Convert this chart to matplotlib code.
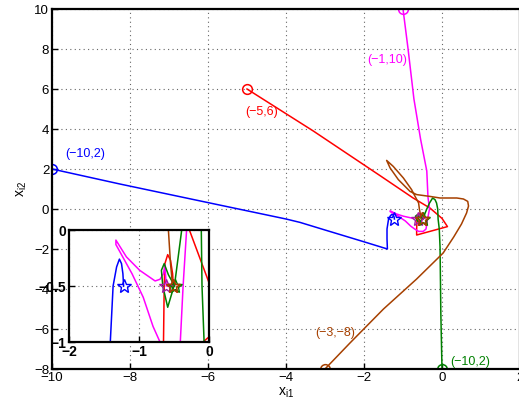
import matplotlib
matplotlib.use('Agg')
import matplotlib.pyplot as plt

plt.rcParams['font.family'] = ['Liberation Sans', 'DejaVu Sans']

# trajectories (x_i1, x_i2)
blue_x = [-10, -8.26, -6, -4, -3.64, -3, -2, -1.4, -1.41, -1.41, -1.37, -1.32, -1.28, -1.25, -1.23, -1.22]
blue_y = [2, 1.25, 0.32, -0.5, -0.67, -1.05, -1.64, -2.0, -1.5, -1.0, -0.5, -0.33, -0.26, -0.3, -0.39, -0.5]

red_x = [-5, -3.3, -1.59, -0.74, -0.31, 0, 0.14, -0.65, -0.65, -0.64, -0.63, -0.59, -0.55, -0.52, -0.51]
red_y = [6, 3.9, 1.67, 0.55, 0.05, -0.47, -0.88, -1.3, -1.0, -0.5, -0.3, -0.22, -0.27, -0.39, -0.5]

mag_x = [-1, -0.87, -0.72, -0.55, -0.45, -0.39, -0.36, -0.32, -0.37, -0.41, -0.48, -0.6, -0.7, -0.8,
         -0.94, -1.1, -1.33, -1.33, -1.18, -0.99, -0.77, -0.7, -0.65, -0.63, -0.61]
mag_y = [10, 8, 5.5, 3.5, 2.5, 1.9, 0.6, 0, -0.5, -1.0, -1.12, -1.12, -1.0, -0.86,
         -0.6, -0.39, -0.13, -0.09, -0.24, -0.36, -0.455, -0.44, -0.39, -0.31, -0.5]

green_x = [0, -0.03, -0.05, -0.07, -0.1, -0.11, -0.14, -0.18, -0.24, -0.32, -0.39, -0.49, -0.59,
           -0.66, -0.68, -0.64, -0.58, -0.49]
green_y = [-8, -5.2, -1.9, -1.0, -0.5, 0, 0.3, 0.47, 0.55, 0.3, 0, -0.48, -0.69,
           -0.5, -0.36, -0.30, -0.4, -0.5]

brown_x = [-3, -2.36, -1.5, -0.65, 0.03, 0.3, 0.5, 0.63, 0.68, 0.66, 0.55, 0.38, -0.05, -0.31, -0.65,
           -0.82, -1.12, -1.33, -1.42, -1.25, -0.99, -0.78, -0.69, -0.6, -0.58, -0.55, -0.52]
brown_y = [-8, -6.7, -5.0, -3.5, -2.2, -1.4, -0.75, -0.2, 0.15, 0.38, 0.5, 0.55, 0.55, 0.63, 0.72,
           0.88, 1.47, 2.05, 2.43, 2.13, 1.55, 0.97, 0.63, 0.3, 0, -0.3, -0.5]

# equilibrium estimates (stars)
star_x = [-1.22, -0.51, -0.61, -0.49, -0.52]
star_y = [-0.5, -0.5, -0.5, -0.5, -0.5]

labels = ['(\u221210,2)', '(\u22125,6)', '(\u22121,10)', '(\u221210,2)', '(\u22123,\u22128)']
label_x = [-9.67, -5.05, -1.92, 0.2, -3.26]
label_y = [2.6, 4.7, 7.3, -7.8, -6.35]

brown = (0.65, 0.25, 0.0)
green = (0.0, 0.5, 0.0)
magenta = (1.0, 0.0, 1.0)
purple = (0.65, 0.1, 0.65)
curves = [(blue_x, blue_y, 'b'), (red_x, red_y, 'r'), (mag_x, mag_y, magenta),
          (green_x, green_y, green), (brown_x, brown_y, brown)]
star_cols = ['b', 'r', purple, green, brown]
label_cols = ['b', 'r', magenta, green, brown]


def draw(ax):
    for xs, ys, c in curves:
        ax.plot(xs, ys, color=c, lw=1.1)
        ax.plot(xs[0], ys[0], 'o', mfc='none', mec=c, ms=7, mew=1.1)
    for sx, sy, c in zip(star_x, star_y, star_cols):
        ax.plot(sx, sy, '*', mfc='none', mec=c, ms=10, mew=1.0)
    ax.grid(True, ls=(0, (1, 3)), color='0.4', lw=0.8)
    ax.tick_params(direction='in', length=4, width=1)
    for s in ax.spines.values():
        s.set_linewidth(1.6)


fig = plt.figure(figsize=(5.19, 4.12), dpi=100)
ax = fig.add_axes([52 / 519, 43 / 412, 468 / 519, 360 / 412])
draw(ax)
for t, lx, ly, c in zip(labels, label_x, label_y, label_cols):
    ax.text(lx, ly, t, color=c, fontsize=9)
ax.set_xlim(-10, 2)
ax.set_ylim(-8, 10)
ax.set_xticks(range(-10, 3, 2))
ax.set_yticks(range(-8, 11, 2))
ax.tick_params(labelsize=9.5, pad=2)
ax.set_xlabel(r'x$_{\mathregular{i1}}$', fontsize=10, labelpad=1)
ax.set_ylabel(r'x$_{\mathregular{i2}}$', fontsize=10, labelpad=4)

ins = fig.add_axes([69 / 519, 70 / 412, 140 / 519, 112 / 412])
draw(ins)
ins.set_xlim(-2, 0)
ins.set_ylim(-1, 0)
ins.set_xticks([-2, -1, 0])
ins.set_yticks([-1, -0.5, 0])
ins.set_yticklabels(['\u22121', '\u22120.5', '0'])
ins.tick_params(labelsize=10, pad=2)
for lab in ins.get_xticklabels() + ins.get_yticklabels():
    lab.set_fontweight('bold')

fig.savefig('out.png', dpi=100)
